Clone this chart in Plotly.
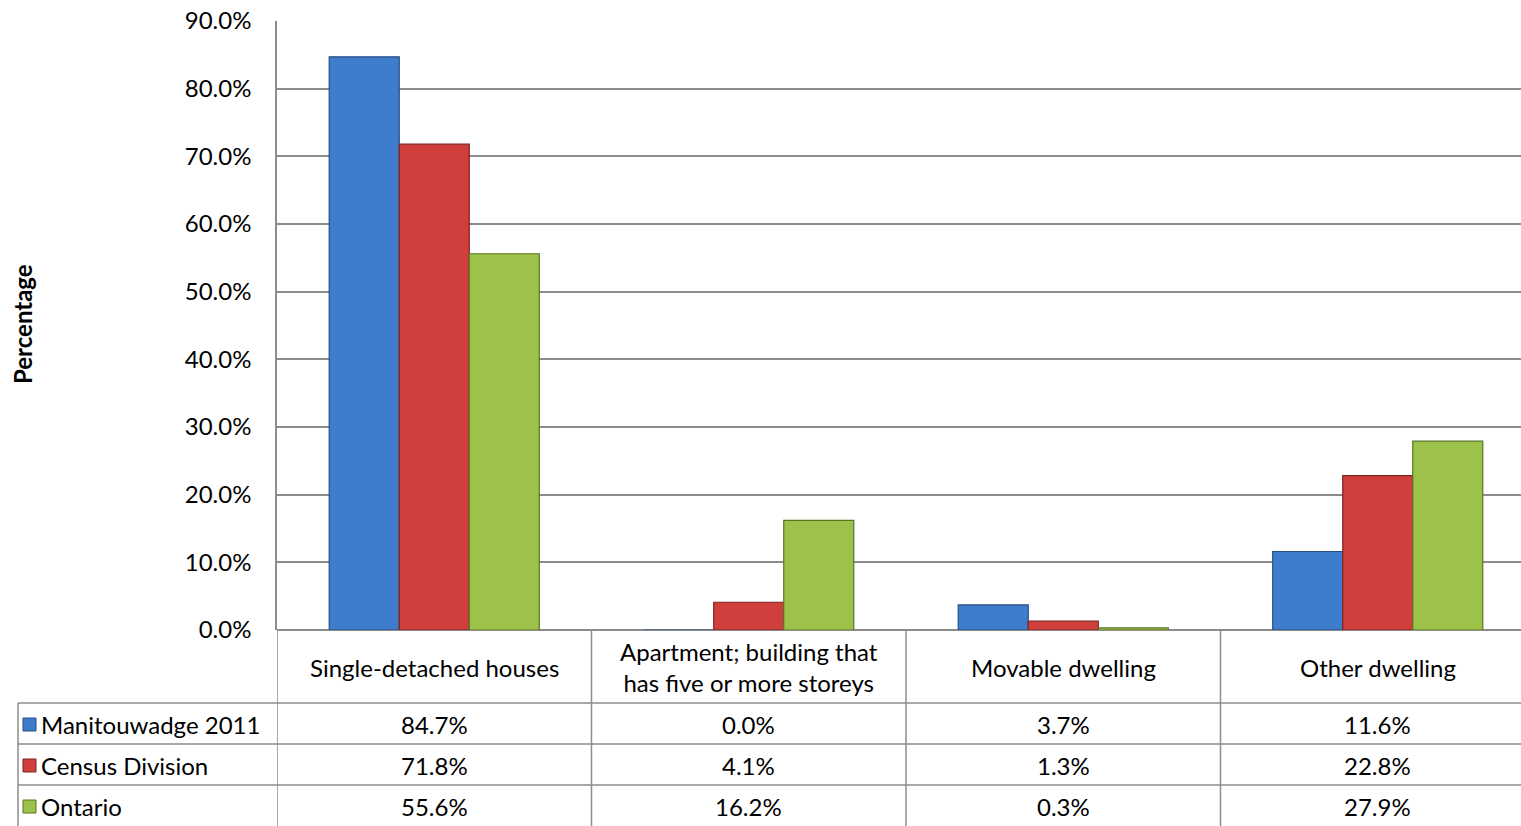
import plotly.graph_objects as go

# Private dwellings by structural type (% of occupied dwellings)
categories = [
    "Single-detached houses",
    "Apartment; building that<br>has five or more storeys",
    "Movable dwelling",
    "Other dwelling",
]
series_names = ["Manitouwadge 2011", "Census Division", "Ontario"]
manitouwadge = [84.7, 0.0, 3.7, 11.6]
census_division = [71.8, 4.1, 1.3, 22.8]
ontario = [55.6, 16.2, 0.3, 27.9]

series_values = [manitouwadge, census_division, ontario]
fill_colors = ["#3E7DCB", "#D13F3C", "#9CC24A"]
edge_colors = ["#264F82", "#7E2321", "#5B7424"]

FONT = "Lato"
FS = 24
W, H = 1521, 826
LEFT, TOP, BOTTOM = 277, 21, 196
PLOT_H = H - TOP - BOTTOM
GRID = "#8C8C8C"

fig = go.Figure()
xs = list(range(len(categories)))
for name, vals, fc, ec in zip(series_names, series_values, fill_colors, edge_colors):
    fig.add_trace(go.Bar(
        x=xs, y=vals, name=name,
        marker=dict(color=fc, line=dict(color=ec, width=1.2)),
        showlegend=False,
    ))


def py(pixel_y):
    """Pixel row (from the top of the page) to paper y."""
    return (H - BOTTOM - pixel_y) / PLOT_H


def px(pixel_x):
    return (pixel_x - LEFT) / (W - LEFT)


shapes = []
annotations = []

# Data table grid
row_lines = [703, 744, 785]
for yl in row_lines:
    shapes.append(dict(type="line", xref="paper", yref="paper",
                       x0=px(18), x1=1, y0=py(yl), y1=py(yl),
                       line=dict(color=GRID, width=1.5)))
shapes.append(dict(type="line", xref="paper", yref="paper",
                   x0=px(18), x1=px(18), y0=py(703), y1=py(830),
                   line=dict(color=GRID, width=1.5)))
for b in [-0.5 + i for i in range(len(categories) + 1)]:
    shapes.append(dict(type="line", xref="x", yref="paper",
                       x0=b, x1=b, y0=0, y1=py(830),
                       line=dict(color=GRID, width=1.5)))

# Category header row
for i, cat in enumerate(categories):
    annotations.append(dict(xref="x", yref="paper", x=i, y=py(667),
                            text=cat, showarrow=False,
                            font=dict(family=FONT, size=FS, color="#000"),
                            xanchor="center", yanchor="middle"))

# Series rows with legend keys and values
row_centers = [724, 765, 806]
for r, (name, vals, fc, ec) in enumerate(zip(series_names, series_values,
                                             fill_colors, edge_colors)):
    yc = row_centers[r]
    shapes.append(dict(type="rect", xref="paper", yref="paper",
                       x0=px(23), x1=px(36), y0=py(yc + 7), y1=py(yc - 6),
                       fillcolor=fc, line=dict(color=ec, width=1)))
    annotations.append(dict(xref="paper", yref="paper", x=px(39), y=py(yc),
                            text=name, showarrow=False,
                            font=dict(family=FONT, size=FS, color="#000"),
                            xanchor="left", yanchor="middle"))
    for i, v in enumerate(vals):
        annotations.append(dict(xref="x", yref="paper", x=i, y=py(yc),
                                text=f"{v:.1f}%", showarrow=False,
                                font=dict(family=FONT, size=FS, color="#000"),
                                xanchor="center", yanchor="middle"))

# Axis title
annotations.append(dict(xref="paper", yref="paper", x=px(23), y=py(324),
                        text="<b>Percentage</b>", textangle=-90, showarrow=False,
                        font=dict(family=FONT, size=FS, color="#000"),
                        xanchor="center", yanchor="middle"))

# Category axis spans one cell width per category; the right edge runs past the page
cell_px = 314.5
visible_right = -0.5 + (W - LEFT) / cell_px

fig.update_layout(
    width=W, height=H,
    margin=dict(l=LEFT, r=0, t=TOP, b=BOTTOM, pad=0),
    paper_bgcolor="white", plot_bgcolor="white",
    barmode="group", bargap=0.332, bargroupgap=0,
    font=dict(family=FONT, size=FS, color="#000"),
    xaxis=dict(range=[-0.5, visible_right], showticklabels=False,
               showgrid=False, zeroline=False, showline=False, ticks=""),
    yaxis=dict(range=[0, 90], dtick=10, tickformat=".1f", ticksuffix="%",
               showgrid=True, gridcolor=GRID, gridwidth=1.5,
               zeroline=True, zerolinecolor=GRID, zerolinewidth=1.5,
               showline=True, linecolor=GRID, linewidth=1.5,
               ticks="", ticklabelstandoff=19,
               tickfont=dict(family=FONT, size=FS, color="#000")),
    shapes=shapes,
    annotations=annotations,
)

fig.write_html("out.html")
